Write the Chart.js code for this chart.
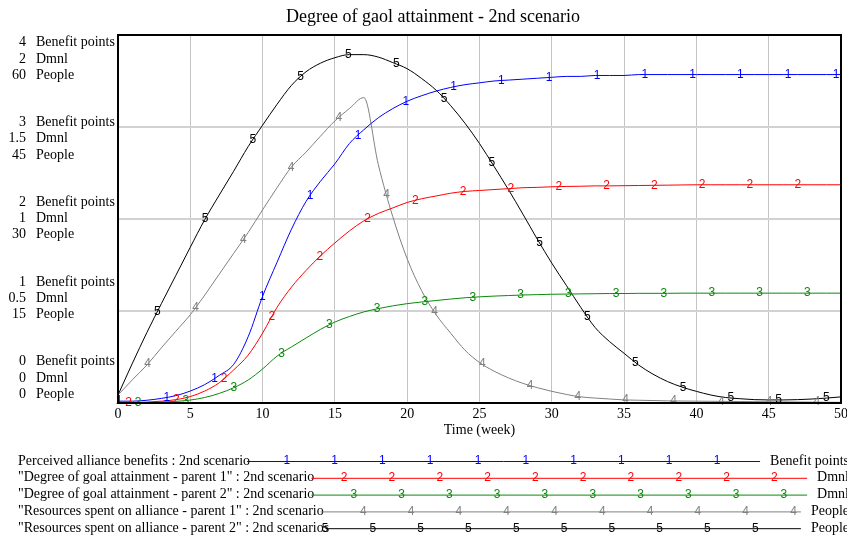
<!DOCTYPE html>
<html>
<head>
<meta charset="utf-8">
<script src="https://cdn.jsdelivr.net/npm/chart.js@4.4.0/dist/chart.umd.min.js"></script>
<style>
  html, body { margin: 0; padding: 0; background: #fff; }
  canvas { display: block; }
</style>
</head>
<body>
<canvas id="chart" width="847" height="538"></canvas>
<script>
const weeks = [0, 1, 2, 3, 4, 5, 6, 7, 8, 9, 10, 11, 12, 13, 14, 15, 16, 17, 18, 19, 20,
  21, 22, 23, 24, 25, 26, 27, 28, 29, 30, 31, 32, 33, 34, 35, 36, 37, 38, 39, 40,
  41, 42, 43, 44, 45, 46, 47, 48, 49, 50];

// Benefit points
const perceivedBenefits = [0.02, 0.02, 0.03, 0.05, 0.08, 0.13, 0.2, 0.3, 0.42, 0.72, 1.16,
  1.53, 1.89, 2.19, 2.41, 2.6, 2.82, 2.97, 3.1, 3.2, 3.28,
  3.34, 3.39, 3.43, 3.46, 3.48, 3.5, 3.51, 3.52, 3.53, 3.54,
  3.55, 3.55, 3.56, 3.56, 3.56, 3.57, 3.57, 3.57, 3.57, 3.57,
  3.57, 3.57, 3.57, 3.57, 3.57, 3.57, 3.57, 3.57, 3.57, 3.57];

// Dmnl
const goalParent1 = [0, 0.002, 0.005, 0.01, 0.018, 0.035, 0.065, 0.11, 0.18, 0.26, 0.38,
  0.52, 0.63, 0.72, 0.8, 0.87, 0.935, 0.99, 1.03, 1.06, 1.09,
  1.11, 1.125, 1.14, 1.15, 1.155, 1.16, 1.165, 1.17, 1.172, 1.175,
  1.177, 1.178, 1.18, 1.18, 1.181, 1.182, 1.183, 1.184, 1.185, 1.186,
  1.186, 1.186, 1.186, 1.186, 1.186, 1.186, 1.186, 1.186, 1.186, 1.186];

const goalParent2 = [0, 0.001, 0.002, 0.005, 0.009, 0.016, 0.03, 0.052, 0.083, 0.125, 0.185,
  0.255, 0.305, 0.353, 0.4, 0.44, 0.47, 0.495, 0.513, 0.528, 0.54,
  0.549, 0.557, 0.565, 0.572, 0.577, 0.581, 0.584, 0.587, 0.589, 0.591,
  0.592, 0.593, 0.594, 0.595, 0.595, 0.596, 0.596, 0.596, 0.597, 0.597,
  0.597, 0.597, 0.597, 0.597, 0.597, 0.597, 0.597, 0.597, 0.597, 0.597];

// People
const resourcesParent1 = [1.3, 3.8, 6.2, 9.0, 11.7, 14.4, 17.6, 21.0, 24.4, 27.8, 31.5,
  35.1, 38.5, 40.9, 43.5, 46.0, 48.0, 49.8, 38.9, 30.4, 23.5,
  18.3, 14.4, 11.4, 8.6, 6.6, 5.2, 4.1, 3.2, 2.5, 1.9,
  1.4, 1.0, 0.8, 0.65, 0.5, 0.45, 0.4, 0.35, 0.32, 0.3,
  0.28, 0.26, 0.24, 0.22, 0.2, 0.18, 0.16, 0.14, 0.12, 0.1];

const resourcesParent2 = [1.3, 6.5, 11.5, 16.2, 20.8, 25.4, 29.9, 33.9, 37.8, 41.8, 45.3,
  48.7, 51.8, 54.0, 55.4, 56.3, 56.8, 56.8, 56.4, 55.5, 54.5,
  52.9, 51.0, 48.5, 45.6, 42.3, 38.6, 34.8, 30.8, 26.7, 22.8,
  19.2, 15.6, 12.3, 10.0, 8.1, 6.2, 4.7, 3.5, 2.6, 1.9,
  1.3, 0.9, 0.7, 0.55, 0.5, 0.5, 0.55, 0.65, 0.8, 1.0];

const chartTitle = 'Degree of gaol attainment - 2nd scenario';
const seriesNames = [
  'Perceived alliance benefits : 2nd scenario',
  '"Degree of goal attainment - parent 1" : 2nd scenario',
  '"Degree of goal attainment - parent 2" : 2nd scenario',
  '"Resources spent on alliance - parent 1" : 2nd scenario',
  '"Resources spent on alliance - parent 2" : 2nd scenarios'
];
const seriesUnits = ['Benefit points', 'Dmnl', 'Dmnl', 'People', 'People'];

const benefitTicks = [0, 1, 2, 3, 4];
const dmnlTicks = [0, 0.5, 1, 1.5, 2];
const peopleTicks = [0, 15, 30, 45, 60];
const weekTicks = [0, 5, 10, 15, 20, 25, 30, 35, 40, 45, 50];

const colors = ['#0000ff', '#ff0000', '#0a8a0a', '#808080', '#000000'];
const serif = '"Liberation Serif", "Times New Roman", serif';
const MARK_STEP = 47.8;

function points(values) {
  return weeks.map((w, i) => ({ x: w, y: values[i] }));
}

function digitFont() {
  return '12px "Liberation Sans", Arial, sans-serif';
}

const vensimPlugin = {
  id: 'vensim',
  afterDatasetsDraw(chart) {
    const ctx = chart.ctx;
    const area = chart.chartArea;
    ctx.save();
    ctx.font = digitFont();
    ctx.textAlign = 'center';
    ctx.textBaseline = 'middle';
    chart.data.datasets.forEach((ds, k) => {
      const pts = chart.getDatasetMeta(k).data;
      ctx.fillStyle = ds.borderColor;
      for (let x = area.left + 1 + k * MARK_STEP / 5; x <= area.right; x += MARK_STEP) {
        let i = 0;
        while (i < pts.length - 2 && pts[i + 1].x < x) i++;
        const a = pts[i], b = pts[i + 1];
        const f = (x - a.x) / (b.x - a.x);
        ctx.fillText(String(k + 1), x, a.y + (b.y - a.y) * f);
      }
    });
    ctx.restore();
  },
  afterDraw(chart) {
    const ctx = chart.ctx;
    const area = chart.chartArea;
    ctx.save();

    // frame
    ctx.strokeStyle = '#000';
    ctx.lineWidth = 2;
    ctx.strokeRect(area.left, area.top, area.right - area.left, area.bottom - area.top);

    // title
    ctx.fillStyle = '#000';
    ctx.font = '18px ' + serif;
    ctx.textAlign = 'center';
    ctx.textBaseline = 'middle';
    ctx.fillText(chartTitle, 433, 17);

    // stacked unit labels on the left
    ctx.font = '14px ' + serif;
    const first = area.top + 24;
    const last = area.bottom - 25;
    const n = peopleTicks.length;
    for (let i = 0; i < n; i++) {
      const j = n - 1 - i;
      const cy = first + (last - first) * i / (n - 1);
      const rows = [
        [benefitTicks[j], 'Benefit points'],
        [dmnlTicks[j], 'Dmnl'],
        [peopleTicks[j], 'People']
      ];
      rows.forEach((r, m) => {
        const y = cy + (m - 1) * 16.3;
        ctx.textAlign = 'right';
        ctx.fillText(String(r[0]), 26, y);
        ctx.textAlign = 'left';
        ctx.fillText(r[1], 36, y);
      });
    }

    // key below the axis
    seriesNames.forEach((name, k) => {
      const y = 461 + k * 16.8;
      ctx.font = '14px ' + serif;
      ctx.fillStyle = '#000';
      ctx.textAlign = 'left';
      ctx.fillText(name, 18, y);
      const start = 18 + ctx.measureText(name).width - 3;
      ctx.textAlign = 'right';
      ctx.fillText(seriesUnits[k], 849, y);
      const end = 849 - ctx.measureText(seriesUnits[k]).width - 10;
      ctx.strokeStyle = colors[k];
      ctx.lineWidth = 1;
      ctx.beginPath();
      ctx.moveTo(start, y + 0.5);
      ctx.lineTo(end, y + 0.5);
      ctx.stroke();
      ctx.font = digitFont();
      ctx.fillStyle = colors[k];
      ctx.textAlign = 'center';
      for (let x = k * MARK_STEP / 5; x < end; x += MARK_STEP) {
        if (x >= start - 4) ctx.fillText(String(k + 1), x, y);
      }
    });
    ctx.restore();
  }
};

const series = [perceivedBenefits, goalParent1, goalParent2, resourcesParent1, resourcesParent2];
const axisFor = ['yB', 'yD', 'yD', 'yP', 'yP'];

new Chart(document.getElementById('chart'), {
  type: 'line',
  data: {
    datasets: series.map((values, k) => ({
      label: seriesNames[k],
      data: points(values),
      yAxisID: axisFor[k],
      borderColor: colors[k],
      borderWidth: 1,
      pointRadius: 0,
      cubicInterpolationMode: 'monotone',
      fill: false
    }))
  },
  options: {
    responsive: false,
    animation: false,
    layout: { padding: { left: 118, right: 6, top: 35, bottom: 95 } },
    plugins: {
      legend: { display: false },
      tooltip: { enabled: false },
      title: { display: false }
    },
    scales: {
      x: {
        type: 'linear',
        min: weekTicks[0],
        max: weekTicks[weekTicks.length - 1],
        afterBuildTicks: (scale) => { scale.ticks = weekTicks.map(v => ({ value: v })); },
        afterFit: (scale) => {
          scale.height = 40;
          scale.paddingLeft = 0;
          scale.paddingRight = 0;
        },
        border: { display: false },
        grid: { color: '#c4c4c4', lineWidth: 1, drawTicks: false },
        ticks: { color: '#000', padding: 3, maxRotation: 0, font: { family: serif, size: 14 } },
        title: {
          display: true,
          text: 'Time (week)',
          color: '#000',
          font: { family: serif, size: 14 },
          padding: { top: 0, bottom: 4 }
        }
      },
      yP: {
        position: 'left',
        min: peopleTicks[0],
        max: peopleTicks[peopleTicks.length - 1],
        afterBuildTicks: (scale) => { scale.ticks = peopleTicks.map(v => ({ value: v })); },
        afterFit: (scale) => {
          scale.width = 0;
          scale.paddingTop = 0;
          scale.paddingBottom = 0;
        },
        border: { display: false },
        grid: { color: '#d2d2d2', lineWidth: 2, drawTicks: false },
        ticks: { display: false }
      },
      yB: { display: false, min: benefitTicks[0], max: benefitTicks[benefitTicks.length - 1] },
      yD: { display: false, min: dmnlTicks[0], max: dmnlTicks[dmnlTicks.length - 1] }
    }
  },
  plugins: [vensimPlugin]
});
</script>
</body>
</html>
